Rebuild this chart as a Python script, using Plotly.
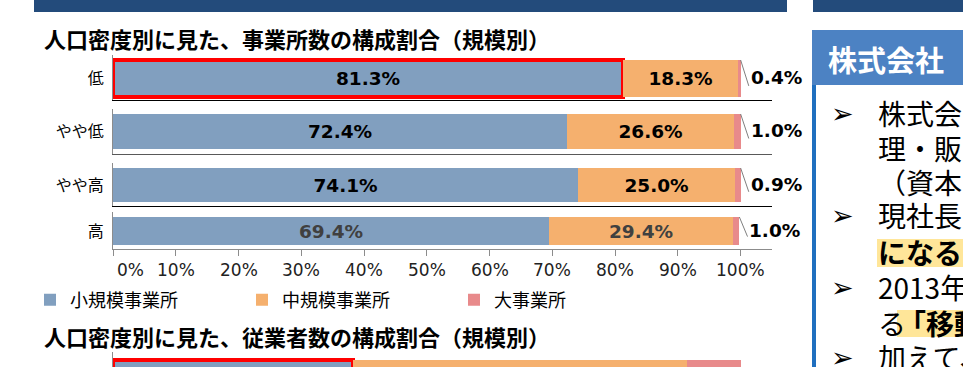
import plotly.graph_objects as go

W, H = 963, 367

# ---------------- data ----------------
categories = ["低", "やや低", "やや高", "高"]
small_share = [81.3, 72.4, 74.1, 69.4]
medium_share = [18.3, 26.6, 25.0, 29.4]
large_share = [0.4, 1.0, 0.9, 1.0]
series_names = ["小規模事業所", "中規模事業所", "大事業所"]
series_colors = ["#819FBF", "#F5B06E", "#E88A8B"]

emp_category = ["低"]
emp_small = [38.2]
emp_medium = [53.3]
emp_large = [8.5]

tick_values = [0, 10, 20, 30, 40, 50, 60, 70, 80, 90, 100]
tick_labels = ["0%", "10%", "20%", "30%", "40%", "50%", "60%", "70%", "80%", "90%", "100%"]

title_establishments = "人口密度別に見た、事業所数の構成割合（規模別）"
title_employees = "人口密度別に見た、従業者数の構成割合（規模別）"

panel_header = "株式会社"
panel_lines = [
    ("➢", "株式会", False),
    ("", "理・販売", False),
    ("", "（資本", False),
    ("➢", "現社長", False),
    ("", "になると", True),
    ("➢", "2013年", False),
    ("", "る", False),
    ("➢", "加えて、", False),
]
highlight_tail = "「移動"

# ---------------- helpers ----------------
def py(p):
    return 1 - p / H

def px(p):
    return p / W

JP = "Noto Sans CJK JP"
NUM = "DejaVu Sans"

# panel geometry in pixels: (panel_top, axis_bottom, bar_top, bar_bottom)
rows_geom = [
    (55, 100, 60, 97),
    (109, 154, 114, 149),
    (163, 206, 168, 202),
    (212, 249, 217, 245),
]
emp_geom = (352, 367, 360, 397)
axis_line_colors = ["#000000", "#595959", "#000000", "#8C8C8C"]
label_colors = ["#000000", "#000000", "#000000", "#404040"]
x_domain = [px(113), px(772)]
legend_row = 1  # legend symbols taken from an un-highlighted row

fig = go.Figure()
layout_axes = {}
annotations = []


def yrange(g):
    top, bottom, btop, bbot = g
    bpx = bbot - btop
    hi = 0.5 + (btop - top) / bpx
    lo = -0.5 - (bottom - bbot) / bpx
    return [lo, hi]


all_rows = []
for i, cat in enumerate(categories):
    all_rows.append((cat, [small_share[i], medium_share[i], large_share[i]], rows_geom[i]))
all_rows.append((emp_category[0], [emp_small[0], emp_medium[0], emp_large[0]], emp_geom))

for r, (cat, vals, g) in enumerate(all_rows):
    k = r + 1
    xa = "x" if k == 1 else f"x{k}"
    ya = "y" if k == 1 else f"y{k}"
    is_emp = r == len(categories)
    for s in range(3):
        highlight = (s == 0 and r in (0, len(categories)))
        show_text = s < 2 and not is_emp
        fig.add_trace(go.Bar(
            x=[vals[s]], y=[0], orientation="h", width=1,
            name=series_names[s], legendgroup=series_names[s],
            showlegend=(r == legend_row),
            marker=dict(color=series_colors[s],
                        line=dict(color="#FF0000" if highlight else series_colors[s],
                                  width=4 if highlight else 0)),
            text=[f"{vals[s]:.1f}%"] if show_text else None,
            textposition="inside" if show_text else "none",
            insidetextanchor="middle", textangle=0,
            textfont=dict(family=NUM, size=18.5, weight="bold",
                          color=label_colors[r] if not is_emp else "#000"),
            xaxis=xa, yaxis=ya, hoverinfo="skip",
        ))
    top, bottom, btop, bbot = g
    last = r == len(categories) - 1
    layout_axes["xaxis" if k == 1 else f"xaxis{k}"] = dict(
        domain=x_domain, range=[0, 105], anchor=ya,
        showgrid=False, zeroline=False,
        showline=not is_emp, linecolor=axis_line_colors[r] if not is_emp else "#000",
        linewidth=1,
        tickvals=tick_values if last else [],
        ticks="outside" if last else "", ticklen=6, tickcolor="#8C8C8C",
        showticklabels=False, fixedrange=True,
    )
    layout_axes["yaxis" if k == 1 else f"yaxis{k}"] = dict(
        domain=[py(bottom), py(top)], range=yrange(g), anchor=xa,
        showgrid=False, zeroline=False, showline=True, linecolor="#8C8C8C",
        linewidth=1, tickvals=[0], ticktext=[cat] if not is_emp else [""],
        ticks="", ticklabelstandoff=5,
        tickfont=dict(family=JP, size=16, color="#000"), fixedrange=True,
    )
    if not is_emp:
        total = sum(vals)
        fig.add_trace(go.Scatter(
            x=[total, total + 1.3], y=[0.5, -0.2], mode="lines",
            line=dict(color="#7F7F7F", width=1), showlegend=False,
            hoverinfo="skip", xaxis=xa, yaxis=ya,
        ))
        annotations.append(dict(
            x=total, y=0, xref=xa, yref=ya, xanchor="left", yanchor="middle",
            xshift=8, yshift=1, showarrow=False, text=f"{vals[2]:.1f}%",
            font=dict(family=NUM, size=18.5, weight="bold", color="#000"),
        ))

# tick labels of the percentage axis
for v, lab in zip(tick_values, tick_labels):
    annotations.append(dict(
        x=v, xref="x4", y=py(270), yref="paper", showarrow=False, text=lab,
        xanchor="left" if v == 0 else "center", xshift=2 if v == 0 else 0,
        yanchor="middle", font=dict(family=NUM, size=17, color="#222"),
    ))

# titles
for txt, yc in [(title_establishments, 38), (title_employees, 336)]:
    annotations.append(dict(
        x=px(42), y=py(yc), xref="paper", yref="paper", xanchor="left",
        yanchor="middle", showarrow=False, text=txt,
        font=dict(family=JP, size=22, weight="bold", color="#000"),
    ))

# right-hand text panel
annotations.append(dict(
    x=px(826), y=py(59), xref="paper", yref="paper", xanchor="left",
    yanchor="middle", showarrow=False, text=panel_header,
    font=dict(family=JP, size=29, weight="bold", color="#FFFFFF"),
))
line_y = [113, 148, 182, 215, 252, 287, 323, 357]
for (bullet, txt, hl), yc in zip(panel_lines, line_y):
    if bullet:
        annotations.append(dict(
            x=px(829), y=py(yc), xref="paper", yref="paper", xanchor="left",
            yanchor="middle", showarrow=False, text=bullet,
            font=dict(family=NUM, size=27, color="#000"),
        ))
    annotations.append(dict(
        x=px(876), y=py(yc), xref="paper", yref="paper", xanchor="left",
        yanchor="middle", showarrow=False, text=txt,
        font=dict(family=JP, size=28, weight="bold" if hl else "normal", color="#000"),
    ))
annotations.append(dict(
    x=px(896), y=py(323), xref="paper", yref="paper", xanchor="left",
    yanchor="middle", showarrow=False, text=highlight_tail,
    font=dict(family=JP, size=28, weight="bold", color="#000"),
))

shapes = [
    dict(type="rect", xref="paper", yref="paper", x0=px(34), x1=px(787),
         y0=py(12), y1=py(0), fillcolor="#234B7B", line=dict(width=0), layer="below"),
    dict(type="rect", xref="paper", yref="paper", x0=px(813), x1=px(963),
         y0=py(12), y1=py(0), fillcolor="#234B7B", line=dict(width=0), layer="below"),
    dict(type="rect", xref="paper", yref="paper", x0=px(812), x1=px(963),
         y0=py(85), y1=py(30), fillcolor="#4C82C3", line=dict(width=0), layer="below"),
    dict(type="rect", xref="paper", yref="paper", x0=px(812), x1=px(816),
         y0=py(367), y1=py(85), fillcolor="#1F6FBF", line=dict(width=0), layer="below"),
    # text highlights
    dict(type="rect", xref="paper", yref="paper", x0=px(877), x1=px(963),
         y0=py(267), y1=py(239), fillcolor="#FFE699", line=dict(width=0), layer="below"),
    dict(type="rect", xref="paper", yref="paper", x0=px(897), x1=px(963),
         y0=py(337), y1=py(310), fillcolor="#FFE699", line=dict(width=0), layer="below"),
]

fig.update_layout(
    width=W, height=H, autosize=False,
    margin=dict(l=0, r=0, t=0, b=0),
    paper_bgcolor="#FFFFFF", plot_bgcolor="rgba(0,0,0,0)",
    barmode="stack", bargap=0,
    showlegend=True,
    legend=dict(orientation="h", x=px(30), xanchor="left", y=py(300),
                yanchor="middle", entrywidth=167, entrywidthmode="pixels",
                traceorder="normal", font=dict(family=JP, size=18, color="#000"),
                bgcolor="rgba(0,0,0,0)"),
    annotations=annotations, shapes=shapes,
    **layout_axes,
)

fig.write_html("out.html", config={"displayModeBar": False},
               post_script="document.body.style.margin='0';document.body.style.overflow='hidden';")
